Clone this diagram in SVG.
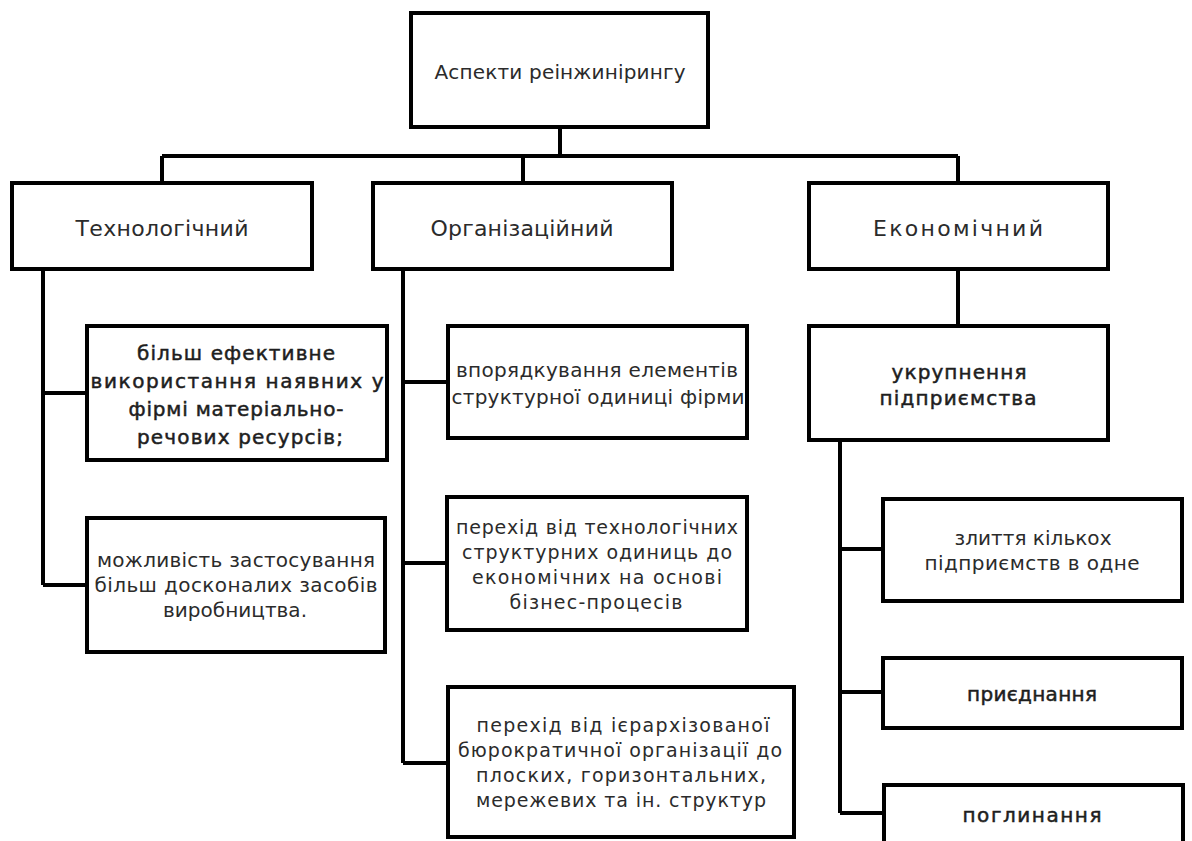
<svg xmlns="http://www.w3.org/2000/svg" width="1192" height="841" viewBox="0 0 1192 841">
<style>
.box{fill:#fff;stroke:#000;stroke-width:4}
.ln{fill:none;stroke:#000;stroke-width:4}
text{font-family:"DejaVu Sans","Open Sans",sans-serif;fill:#2b2b2b;text-anchor:middle;dominant-baseline:central;font-size:20px}
.d{fill:#1e1e1e;stroke:#1e1e1e;stroke-width:0.5}
.t{font-size:22px}
.s{font-size:19px}
</style>
<rect width="1192" height="841" fill="#fff"/>
<g id="connectors">
<path class="ln" d="M560 127V156M162 156H958M162 156V183M523 156V183M958 156V183"/>
<path class="ln" d="M43 269V585M43 393H87M43 585H87"/>
<path class="ln" d="M403 269V763M403 382H448M403 563H447M403 763H448"/>
<path class="ln" d="M958 269V326M840 440V813M840 549H883M840 692H883M840 813H884"/>
</g>
<g id="root"><rect class="box" x="411" y="13" width="297" height="114"/>
<text x="560" y="72" font-size="21" textLength="251" lengthAdjust="spacing">Аспекти реінжинірингу</text></g>
<g id="tech"><rect class="box" x="12" y="183" width="300" height="86"/>
<text class="t" x="162" y="228" textLength="173" lengthAdjust="spacing">Технологічний</text></g>
<g id="org"><rect class="box" x="373" y="183" width="299" height="86"/>
<text class="t" x="522" y="228" textLength="183" lengthAdjust="spacing">Організаційний</text></g>
<g id="econ"><rect class="box" x="809" y="183" width="299" height="86"/>
<text class="t" x="958" y="228" textLength="170" lengthAdjust="spacing">Економічний</text></g>
<g id="t1"><rect class="box" x="87" y="326" width="300" height="134"/>
<text class="d" font-size="22" x="236" y="353" textLength="198" lengthAdjust="spacing">більш ефективне</text>
<text class="d" font-size="22" x="237" y="381" textLength="293" lengthAdjust="spacing">використання наявних у</text>
<text class="d" font-size="22" x="236" y="409" textLength="215" lengthAdjust="spacing">фірмі матеріально-</text>
<text class="d" font-size="22" x="240" y="437" textLength="206" lengthAdjust="spacing">речових ресурсів;</text></g>
<g id="t2"><rect class="box" x="87" y="518" width="298" height="134"/>
<text x="236" y="560" textLength="278" lengthAdjust="spacing">можливість застосування</text>
<text x="236" y="585" textLength="283" lengthAdjust="spacing">більш досконалих засобів</text>
<text x="235" y="610" textLength="144" lengthAdjust="spacing">виробництва.</text></g>
<g id="o1"><rect class="box" x="448" y="326" width="299" height="112"/>
<text x="597" y="370" textLength="282" lengthAdjust="spacing">впорядкування елементів</text>
<text x="598" y="397" textLength="293" lengthAdjust="spacing">структурної одиниці фірми</text></g>
<g id="o2"><rect class="box" x="447" y="497" width="300" height="133"/>
<text class="s" x="597" y="527" textLength="282" lengthAdjust="spacing">перехід від технологічних</text>
<text class="s" x="597" y="552" textLength="270" lengthAdjust="spacing">структурних одиниць до</text>
<text class="s" x="597" y="577" textLength="250" lengthAdjust="spacing">економічних на основі</text>
<text class="s" x="596" y="602" textLength="173" lengthAdjust="spacing">бізнес-процесів</text></g>
<g id="o3"><rect class="box" x="448" y="687" width="346" height="150"/>
<text class="s" x="623" y="725" textLength="293" lengthAdjust="spacing">перехід від ієрархізованої</text>
<text class="s" x="620" y="750" textLength="324" lengthAdjust="spacing">бюрократичної організації до</text>
<text class="s" x="621" y="775" textLength="290" lengthAdjust="spacing">плоских, горизонтальних,</text>
<text class="s" x="621" y="800" textLength="290" lengthAdjust="spacing">мережевих та ін. структур</text></g>
<g id="e1"><rect class="box" x="809" y="326" width="299" height="114"/>
<text class="d" x="959" y="372" textLength="135" lengthAdjust="spacing">укрупнення</text>
<text class="d" x="958" y="398" textLength="157" lengthAdjust="spacing">підприємства</text></g>
<g id="e2"><rect class="box" x="883" y="499" width="299" height="102"/>
<text x="1033" y="538" textLength="157" lengthAdjust="spacing">злиття кількох</text>
<text x="1032" y="563" textLength="215" lengthAdjust="spacing">підприємств в одне</text></g>
<g id="e3"><rect class="box" x="883" y="658" width="299" height="70"/>
<text class="d" x="1032" y="694" textLength="130" lengthAdjust="spacing">приєднання</text></g>
<g id="e4"><rect class="box" x="884" y="785" width="299" height="80"/>
<text class="d" x="1032" y="815" textLength="139" lengthAdjust="spacing">поглинання</text></g>
</svg>
